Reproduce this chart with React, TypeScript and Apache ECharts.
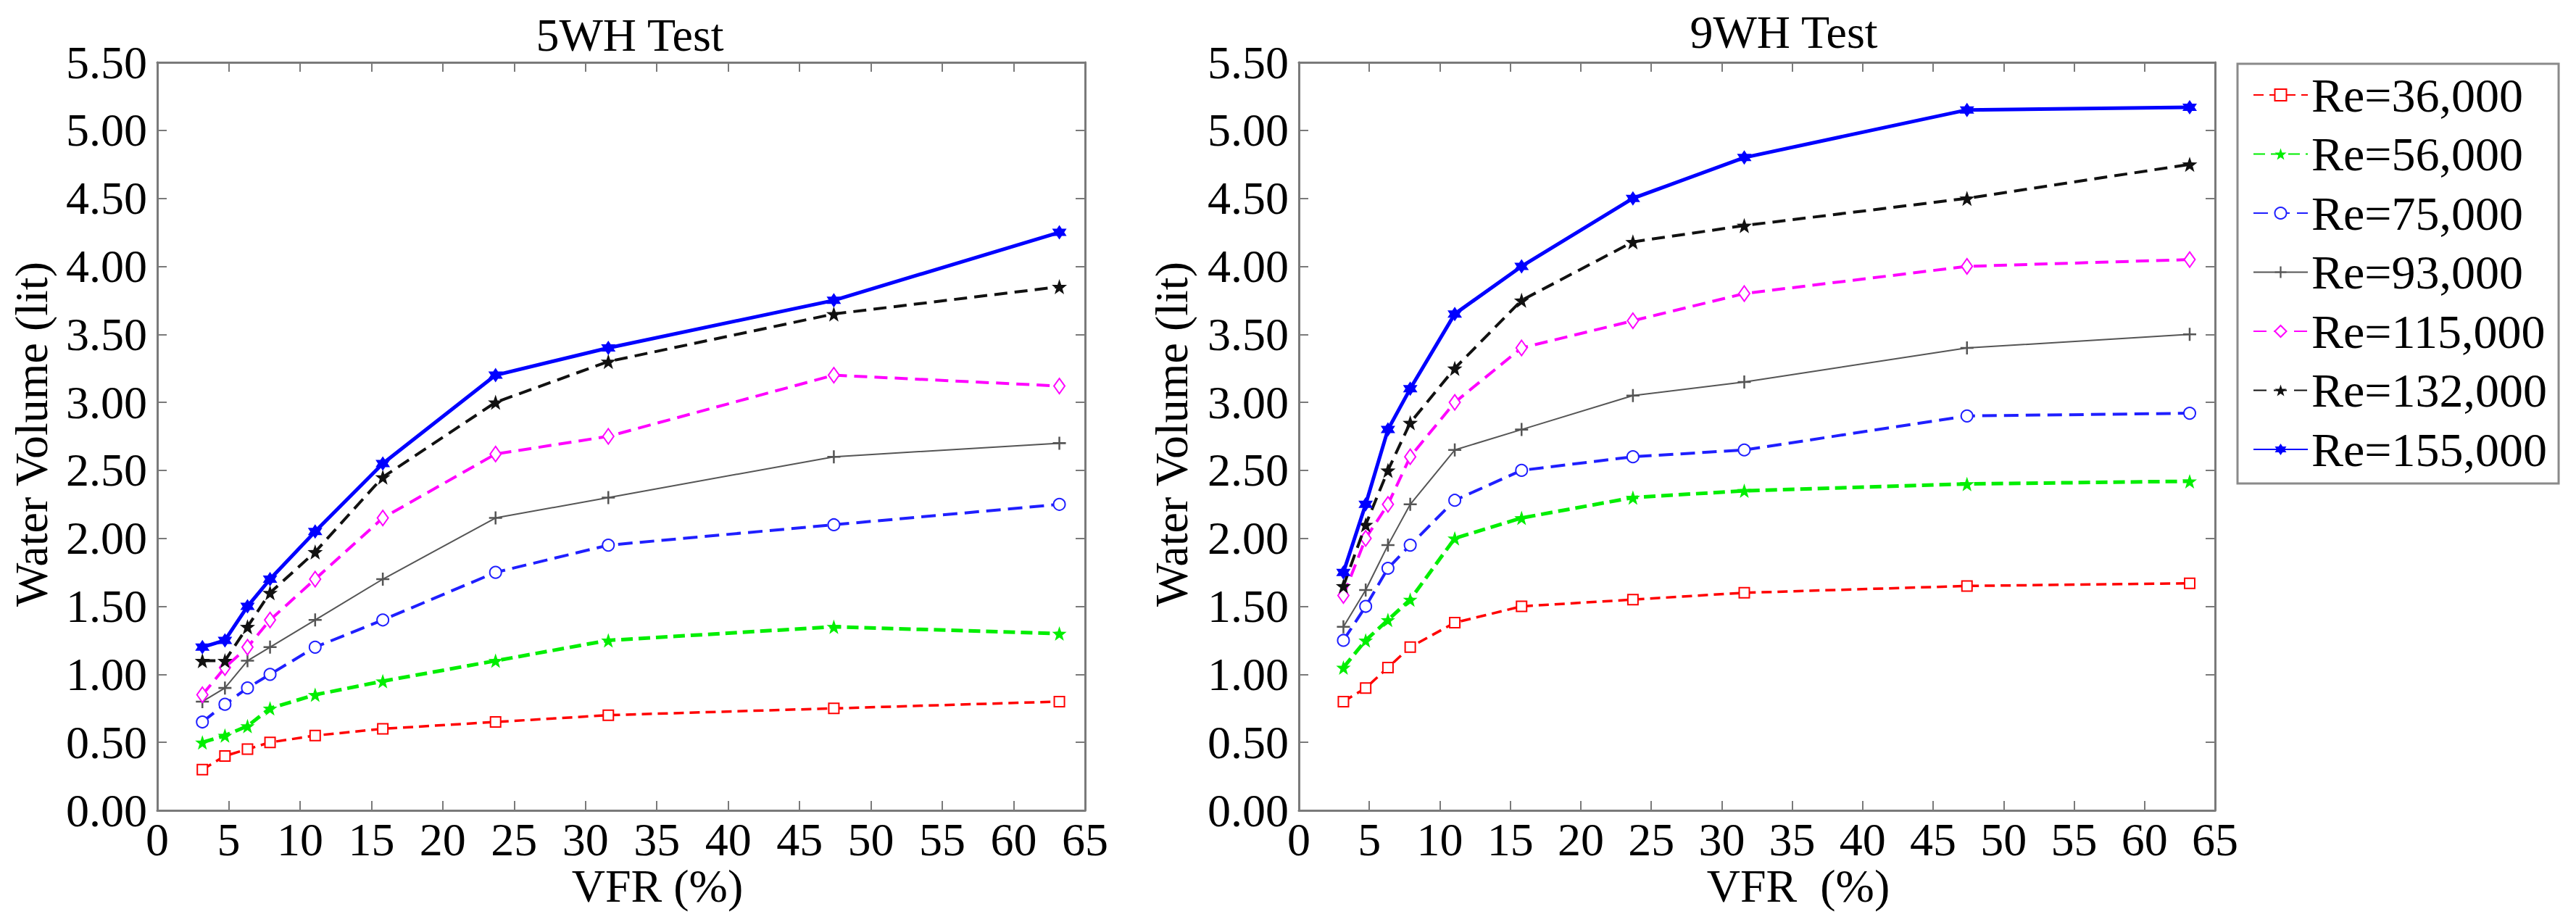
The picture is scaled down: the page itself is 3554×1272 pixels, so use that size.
import React, { useEffect, useRef } from "react";
import * as echarts from "echarts";

// VFR (%) sample positions
const VFR = [3.16, 4.74, 6.32, 7.9, 11.06, 15.8, 23.7, 31.6, 47.4, 63.2];

const SERIES_NAMES = [
  "Re=36,000",
  "Re=56,000",
  "Re=75,000",
  "Re=93,000",
  "Re=115,000",
  "Re=132,000",
  "Re=155,000",
];

// 5WH Test
const WH5_RE36 = [0.3, 0.4, 0.45, 0.5, 0.55, 0.6, 0.65, 0.7, 0.75, 0.8];
const WH5_RE56 = [0.5, 0.55, 0.62, 0.75, 0.85, 0.95, 1.1, 1.25, 1.35, 1.3];
const WH5_RE75 = [0.65, 0.78, 0.9, 1.0, 1.2, 1.4, 1.75, 1.95, 2.1, 2.25];
const WH5_RE93 = [0.8, 0.9, 1.1, 1.2, 1.4, 1.7, 2.15, 2.3, 2.6, 2.7];
const WH5_RE115 = [0.85, 1.05, 1.2, 1.4, 1.7, 2.15, 2.62, 2.75, 3.2, 3.12];
const WH5_RE132 = [1.1, 1.1, 1.35, 1.6, 1.9, 2.45, 3.0, 3.3, 3.65, 3.85];
const WH5_RE155 = [1.2, 1.25, 1.5, 1.7, 2.05, 2.55, 3.2, 3.4, 3.75, 4.25];

// 9WH Test
const WH9_RE36 = [0.8, 0.9, 1.05, 1.2, 1.38, 1.5, 1.55, 1.6, 1.65, 1.67];
const WH9_RE56 = [1.05, 1.25, 1.4, 1.55, 2.0, 2.15, 2.3, 2.35, 2.4, 2.42];
const WH9_RE75 = [1.25, 1.5, 1.78, 1.95, 2.28, 2.5, 2.6, 2.65, 2.9, 2.92];
const WH9_RE93 = [1.35, 1.62, 1.95, 2.25, 2.65, 2.8, 3.05, 3.15, 3.4, 3.5];
const WH9_RE115 = [1.58, 2.0, 2.25, 2.6, 3.0, 3.4, 3.6, 3.8, 4.0, 4.05];
const WH9_RE132 = [1.65, 2.1, 2.5, 2.85, 3.25, 3.75, 4.18, 4.3, 4.5, 4.75];
const WH9_RE155 = [1.75, 2.25, 2.8, 3.1, 3.65, 4.0, 4.5, 4.8, 5.15, 5.17];

const WH5 = [WH5_RE36, WH5_RE56, WH5_RE75, WH5_RE93, WH5_RE115, WH5_RE132, WH5_RE155];
const WH9 = [WH9_RE36, WH9_RE56, WH9_RE75, WH9_RE93, WH9_RE115, WH9_RE132, WH9_RE155];

const X_MIN = 0;
const X_MAX = 65;
const X_STEP = 5;
const Y_MIN = 0;
const Y_MAX = 5.5;
const Y_STEP = 0.5;

const FONT = "Liberation Serif";
const AXIS_GRAY = "#7a7a7a";

const STAR =
  "path://M10,0L12.35,6.76L19.51,6.91L13.8,11.24L15.88,18.09L10,14L4.12,18.09L6.2,11.24L0.49,6.91L7.65,6.76Z";
const PLUS = "path://M4.3,0H5.7V4.3H10V5.7H5.7V10H4.3V5.7H0V4.3H4.3Z";
const HEX =
  "path://M10,0L12.9,5L18.66,5L15.8,10L18.66,15L12.9,15L10,20L7.1,15L1.34,15L4.2,10L1.34,5L7.1,5Z";

const STYLES: any[] = [
  { color: "#ff0000", width: 3.5, type: [14, 8], symbol: "emptyRect", size: 14, border: 3 },
  { color: "#00ee00", width: 5, type: [16, 8], symbol: STAR, size: 20, border: 0 },
  { color: "#1f1fff", width: 4, type: [20, 10], symbol: "emptyCircle", size: 16, border: 3 },
  { color: "#555555", width: 2, type: "solid", symbol: PLUS, size: 18, border: 0 },
  { color: "#ff00ff", width: 4, type: [18, 10], symbol: "emptyDiamond", size: [15, 21], border: 3 },
  { color: "#111111", width: 4, type: [18, 10], symbol: STAR, size: 21, border: 0 },
  { color: "#0000ff", width: 5, type: "solid", symbol: HEX, size: 20, border: 0 },
];

function makeAxesX(gridIndex: number, withLabels: boolean, position: string) {
  return {
    type: "value",
    gridIndex,
    position,
    min: X_MIN,
    max: X_MAX,
    interval: X_STEP,
    axisLine: { show: true, onZero: false, lineStyle: { color: AXIS_GRAY, width: 3 } },
    axisTick: { show: true, inside: true, length: 13, lineStyle: { color: AXIS_GRAY, width: 2 } },
    axisLabel: {
      show: withLabels,
      margin: 8,
      color: "#000",
      fontFamily: FONT,
      fontSize: 64,
    },
    splitLine: { show: false },
  };
}

function makeAxesY(gridIndex: number, withLabels: boolean, position: string) {
  return {
    type: "value",
    gridIndex,
    position,
    min: Y_MIN,
    max: Y_MAX,
    interval: Y_STEP,
    axisLine: { show: true, onZero: false, lineStyle: { color: AXIS_GRAY, width: 3 } },
    axisTick: { show: true, inside: true, length: 13, lineStyle: { color: AXIS_GRAY, width: 2 } },
    axisLabel: {
      show: withLabels,
      margin: 14,
      color: "#000",
      fontFamily: FONT,
      fontSize: 64,
      formatter: (v: number) => v.toFixed(2),
    },
    splitLine: { show: false },
  };
}

function makeSeries(sets: number[][], axisIndex: number) {
  return sets.map((vals, i) => {
    const s = STYLES[i];
    return {
      name: SERIES_NAMES[i],
      type: "line",
      xAxisIndex: axisIndex,
      yAxisIndex: axisIndex,
      data: VFR.map((x, k) => [x, vals[k]]),
      symbol: s.symbol,
      symbolSize: s.size,
      showAllSymbol: true,
      lineStyle: { color: s.color, width: s.width, type: s.type },
      itemStyle: { color: s.color, borderColor: s.color, borderWidth: s.border },
      z: 2 + i,
    };
  });
}

function text(str: string, x: number, y: number, rotation = 0) {
  return {
    type: "text",
    x,
    y,
    rotation,
    style: {
      text: str,
      fontFamily: FONT,
      fontSize: 64,
      fill: "#000",
      align: "center",
      verticalAlign: "middle",
      textAlign: "center",
      textVerticalAlign: "middle",
    },
  };
}

export default function App() {
  const ref = useRef<HTMLDivElement>(null);

  useEffect(() => {
    if (!ref.current) return;
    const chart = echarts.init(ref.current, null, { renderer: "svg" });
    chart.setOption({
      animation: false,
      backgroundColor: "#ffffff",
      textStyle: { fontFamily: FONT },
      grid: [
        { left: 217, top: 86, width: 1280, height: 1032 },
        { left: 1792, top: 86, width: 1264, height: 1032 },
      ],
      xAxis: [
        makeAxesX(0, true, "bottom"),
        makeAxesX(0, false, "top"),
        makeAxesX(1, true, "bottom"),
        makeAxesX(1, false, "top"),
      ],
      yAxis: [
        makeAxesY(0, true, "left"),
        makeAxesY(0, false, "right"),
        makeAxesY(1, true, "left"),
        makeAxesY(1, false, "right"),
      ],
      legend: {
        orient: "vertical",
        left: 3087,
        top: 88,
        data: SERIES_NAMES,
        padding: [10, 16, 14, 21],
        itemWidth: 75,
        itemHeight: 20,
        itemGap: 15.5,
        borderColor: "#8a8a8a",
        borderWidth: 3,
        backgroundColor: "#fff",
        textStyle: { color: "#000", fontFamily: FONT, fontSize: 66, lineHeight: 64 },
      },
      graphic: [
        text("5WH Test", 869, 48),
        text("9WH Test", 2461, 44),
        text("VFR (%)", 907, 1222),
        text("VFR  (%)", 2481, 1222),
        text("Water Volume (lit)", 43, 599, Math.PI / 2),
        text("Water Volume (lit)", 1616, 599, Math.PI / 2),
      ],
      series: [...makeSeries(WH5, 0), ...makeSeries(WH9, 2)],
    });
    return () => chart.dispose();
  }, []);

  return (
    <div
      ref={ref}
      style={{
        position: "fixed",
        left: 0,
        top: 0,
        width: "3554px",
        height: "1272px",
        background: "#fff",
      }}
    />
  );
}
